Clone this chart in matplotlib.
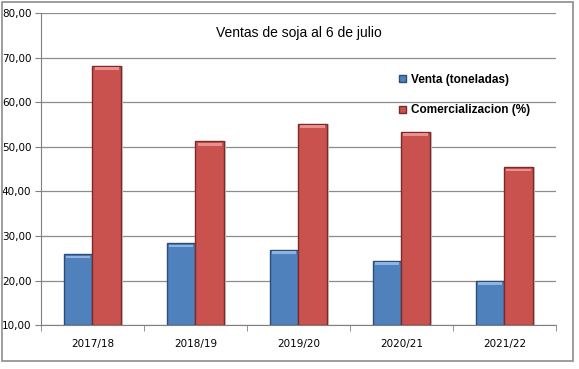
import numpy as np
import matplotlib.pyplot as plt
from matplotlib.patches import Rectangle

# Datos
campanias = ["2017/18", "2018/19", "2019/20", "2020/21", "2021/22"]
venta = [25.9, 28.4, 26.9, 24.5, 19.9]
comercializacion = [68.2, 51.2, 55.1, 53.3, 45.4]

azul = "#4F81BD"
rojo = "#C9524F"

fig = plt.figure(figsize=(5.79, 3.69), dpi=100)
ax = fig.add_axes([0.0708, 0.1184, 0.8892, 0.8464])

# marco exterior del gráfico
fig.patches.append(Rectangle((0.004, 0.022), 0.985, 0.972, transform=fig.transFigure,
                             fill=False, edgecolor="#8c8c8c", linewidth=1.2))

x = np.arange(len(campanias))
ancho = 0.28

# sombra ligera detrás de las barras
ax.bar(x - ancho / 2 + 0.02, np.array(venta) - 10, ancho, bottom=10,
       color="#d0d0d0", zorder=2, linewidth=0)
ax.bar(x + ancho / 2 + 0.02, np.array(comercializacion) - 10, ancho, bottom=10,
       color="#d0d0d0", zorder=2, linewidth=0)

b1 = ax.bar(x - ancho / 2, np.array(venta) - 10, ancho, bottom=10, color=azul,
            edgecolor="#2c4d75", linewidth=1.0, zorder=3, label="Venta (toneladas)")
b2 = ax.bar(x + ancho / 2, np.array(comercializacion) - 10, ancho, bottom=10, color=rojo,
            edgecolor="#7a2a28", linewidth=1.0, zorder=3, label="Comercializacion (%)")

# brillo superior (bisel)
for barras, claro in [(b1, "#8fb4e3"), (b2, "#e8908d")]:
    for r in barras:
        ax.add_patch(Rectangle((r.get_x() + 0.02, r.get_y() + r.get_height() - 0.9),
                               r.get_width() - 0.04, 0.6, color=claro, zorder=4, linewidth=0))

ax.set_xlim(-0.5, len(campanias) - 0.5)
ax.set_ylim(10, 80)
ax.set_yticks(np.arange(10, 81, 10))
ax.set_yticklabels([f"{v:.2f}".replace(".", ",") for v in np.arange(10, 81, 10)], fontsize=7.5)
ax.set_xticks(x)
ax.set_xticklabels(campanias, fontsize=7.5)
ax.set_xticks(np.arange(-0.5, len(campanias)), minor=True)
ax.tick_params(axis="x", which="major", length=0, pad=10)
ax.tick_params(axis="x", which="minor", length=4, color="#808080")
ax.tick_params(axis="y", length=4, color="#808080", pad=3)

ax.grid(axis="y", color="#8c8c8c", linewidth=0.9, zorder=0)
ax.set_axisbelow(True)
for lado in ["top", "right"]:
    ax.spines[lado].set_visible(False)
ax.spines["left"].set_color("#808080")
ax.spines["bottom"].set_color("#808080")

ax.text(0.5, 0.937, "Ventas de soja al 6 de julio", transform=ax.transAxes,
        ha="center", va="center", fontsize=10, family="Liberation Sans")

leg = ax.legend(loc="upper left", bbox_to_anchor=(0.675, 0.84), frameon=False,
                prop={"weight": "bold", "size": 8.5, "family": "Liberation Sans"},
                handlelength=0.6, handleheight=0.6,
                handletextpad=0.4, labelspacing=1.6)

fig.savefig("out.png", dpi=100)
